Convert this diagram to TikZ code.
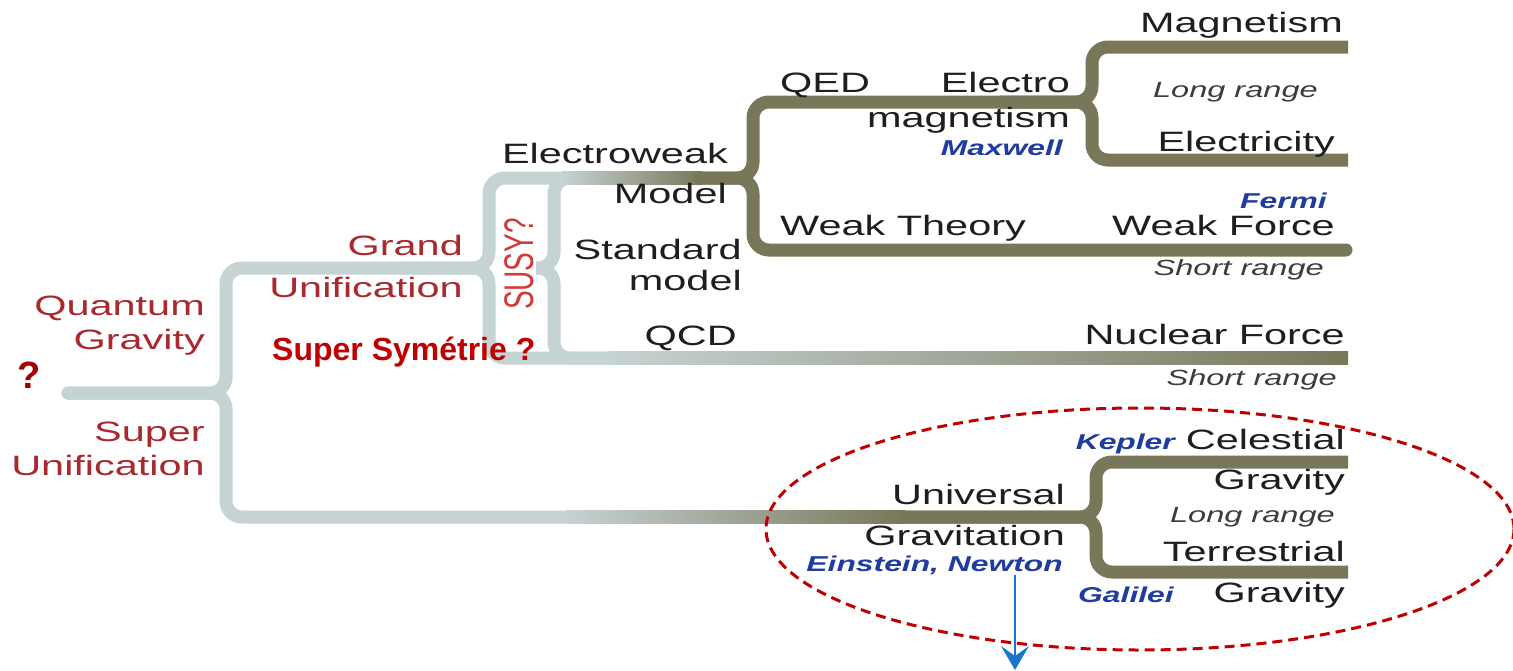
\documentclass[tikz,border=0pt]{standalone}
\usepackage{graphicx}
\usepackage{fontspec}
\setmainfont{Liberation Sans}
\newfontfamily\stretchedsans{Liberation Sans}[FakeStretch=1.48]
\usetikzlibrary{arrows.meta}
\definecolor{lgray}{HTML}{C6D3D3}
\definecolor{oliveline}{HTML}{78775A}
\definecolor{darkredtxt}{HTML}{A8292E}
\definecolor{susyred}{HTML}{D43A3A}
\definecolor{ssred}{HTML}{C00000}
\definecolor{blacktxt}{HTML}{1E1E1E}
\definecolor{bluetxt}{HTML}{1F3C9E}
\definecolor{graytxt}{HTML}{3C3C3C}
\definecolor{arrowblue}{HTML}{1A74C9}
\tikzset{
  gline/.style={draw=lgray, line width=13pt, rounded corners=16pt},
  oline/.style={draw=oliveline, line width=13pt, rounded corners=16pt},
  lbl/.style={font=\stretchedsans\fontsize{28}{30}\selectfont, text=blacktxt, inner sep=0pt},
  rlbl/.style={lbl, text=darkredtxt},
  rng/.style={font=\stretchedsans\itshape\fontsize{22}{24}\selectfont, text=graytxt, inner sep=0pt},
  who/.style={font=\stretchedsans\bfseries\itshape\fontsize{21.5}{24}\selectfont, text=bluetxt, inner sep=0pt}
}
\begin{document}
\begin{tikzpicture}[x=1pt,y=-1pt]
\useasboundingbox (0,0) rectangle (1513,670);
\fill[white] (0,0) rectangle (1513,670);

% branch points
\coordinate (root) at (68,393);
\coordinate (rootv) at (226,393);
\coordinate (gu) at (489,268);
\coordinate (susy) at (554,268);
\coordinate (ew) at (753,178);
\coordinate (em) at (1092,102);
\coordinate (ug) at (1096,517);

% grey lines
\draw[gline, line cap=round] (root) -- (rootv) -- (226,268) -- (gu) -- (489,178) -- (565,178);
\draw[gline, line cap=round] (root) -- (rootv) -- (226,517) -- (570,517);
\draw[gline] (400,268) -- (gu) -- (489,358) -- (612,358);
\draw[gline] (536,268) -- (susy) -- (554,178) -- (590,178);
\draw[gline] (536,268) -- (susy) -- (554,358) -- (612,358);

% gradient segments
\shade[left color=lgray, right color=oliveline] (562,171.5) rectangle (702,184.5);
\shade[left color=lgray, right color=oliveline] (566,510.5) rectangle (905,523.5);
\shade[left color=lgray, right color=oliveline] (608,351.5) rectangle (1348,364.5);

% olive lines
\draw[oline] (700,178) -- (ew) -- (753,102) -- (em) -- (1092,47) -- (1348,47);
\draw[oline] (1000,102) -- (em) -- (1092,160) -- (1348,160);
\draw[oline, line cap=round] (700,178) -- (ew) -- (753,250) -- (1346,250);
\draw[oline] (900,517) -- (ug) -- (1096,462) -- (1348,462);
\draw[oline] (900,517) -- (ug) -- (1096,572) -- (1348,572);

% left labels
\node[font=\bfseries\fontsize{38}{40}\selectfont, text=ssred!85!black, inner sep=0pt, anchor=base] (q) at (29,388) {?};
\node[rlbl, anchor=base east] (quantum) at (205,315) {Quantum};
\node[rlbl, anchor=base east] (gravity) at (205,349) {Gravity};
\node[rlbl, anchor=base east] (super) at (205,441) {Super};
\node[rlbl, anchor=base east] (unif1) at (205,475) {Unification};
\node[rlbl, anchor=base east] (grand) at (463,255) {Grand};
\node[rlbl, anchor=base east] (unif2) at (463,297) {Unification};
\node[font=\bfseries\fontsize{32}{34}\selectfont, text=ssred, inner sep=0pt, anchor=base west] (ss) at (272,360) {Super Symétrie ?};
\node[font=\fontsize{28}{30}\selectfont, text=susyred, inner sep=0pt, rotate=90] (susytxt) at (519,264) {\scalebox{1}[1.48]{SUSY?}};

% standard model
\node[lbl, anchor=base east] (electroweak) at (728,163) {Electroweak};
\node[lbl, anchor=base east] (model) at (727,203) {Model};
\node[lbl, anchor=base east] (standard) at (742,259) {Standard};
\node[lbl, anchor=base east] (model2) at (742,290) {model};
\node[lbl, anchor=base east] (qcd) at (737,345) {QCD};
\node[lbl, anchor=base east] (nuclear) at (1345,344) {Nuclear Force};
\node[rng, anchor=base east] (sr2) at (1337,385) {Short range};

% electroweak branch
\node[lbl, anchor=base west] (qed) at (780,92) {QED};
\node[lbl, anchor=base east] (electro) at (1070,92) {Electro};
\node[lbl, anchor=base east] (magn) at (1070,127) {magnetism};
\node[who, anchor=base east] (maxwell) at (1063,155) {Maxwell};
\node[lbl, anchor=base east] (magnetism) at (1343,32) {Magnetism};
\node[rng, anchor=base east] (lr1) at (1318,97) {Long range};
\node[lbl, anchor=base east] (electricity) at (1335,151) {Electricity};
\node[who, anchor=base east] (fermi) at (1327,208) {Fermi};
\node[lbl, anchor=base east] (weakforce) at (1335,235) {Weak Force};
\node[lbl, anchor=base west] (weaktheory) at (780,235) {Weak Theory};
\node[rng, anchor=base east] (sr1) at (1324,275) {Short range};

% gravitation branch
\node[lbl, anchor=base east] (universal) at (1065,504) {Universal};
\node[lbl, anchor=base east] (gravitation) at (1065,545) {Gravitation};
\node[who, anchor=base east] (einstein) at (1063,571) {Einstein, Newton};
\node[who, anchor=base east] (kepler) at (1175,449) {Kepler};
\node[lbl, anchor=base east] (celestial) at (1345,449) {Celestial};
\node[lbl, anchor=base east] (grav1) at (1345,489) {Gravity};
\node[rng, anchor=base east] (lr2) at (1335,522) {Long range};
\node[lbl, anchor=base east] (terrestrial) at (1345,561) {Terrestrial};
\node[lbl, anchor=base east] (grav2) at (1345,602) {Gravity};
\node[who, anchor=base west] (galilei) at (1078,602) {Galilei};

% overlay
\draw[ssred, line width=3pt, dash pattern=on 10pt off 6pt] (1140,529) ellipse [x radius=374, y radius=121];
\coordinate (arrowend) at (1015,670);
\coordinate (arrowneck) at (1015,656);
\draw[arrowblue, line width=2.5pt] (arrowend |- einstein.south) -- (arrowneck);
\fill[arrowblue] (arrowend) -- (1001,646) -- (arrowneck) -- (1029,646) -- cycle;
\end{tikzpicture}
\end{document}
